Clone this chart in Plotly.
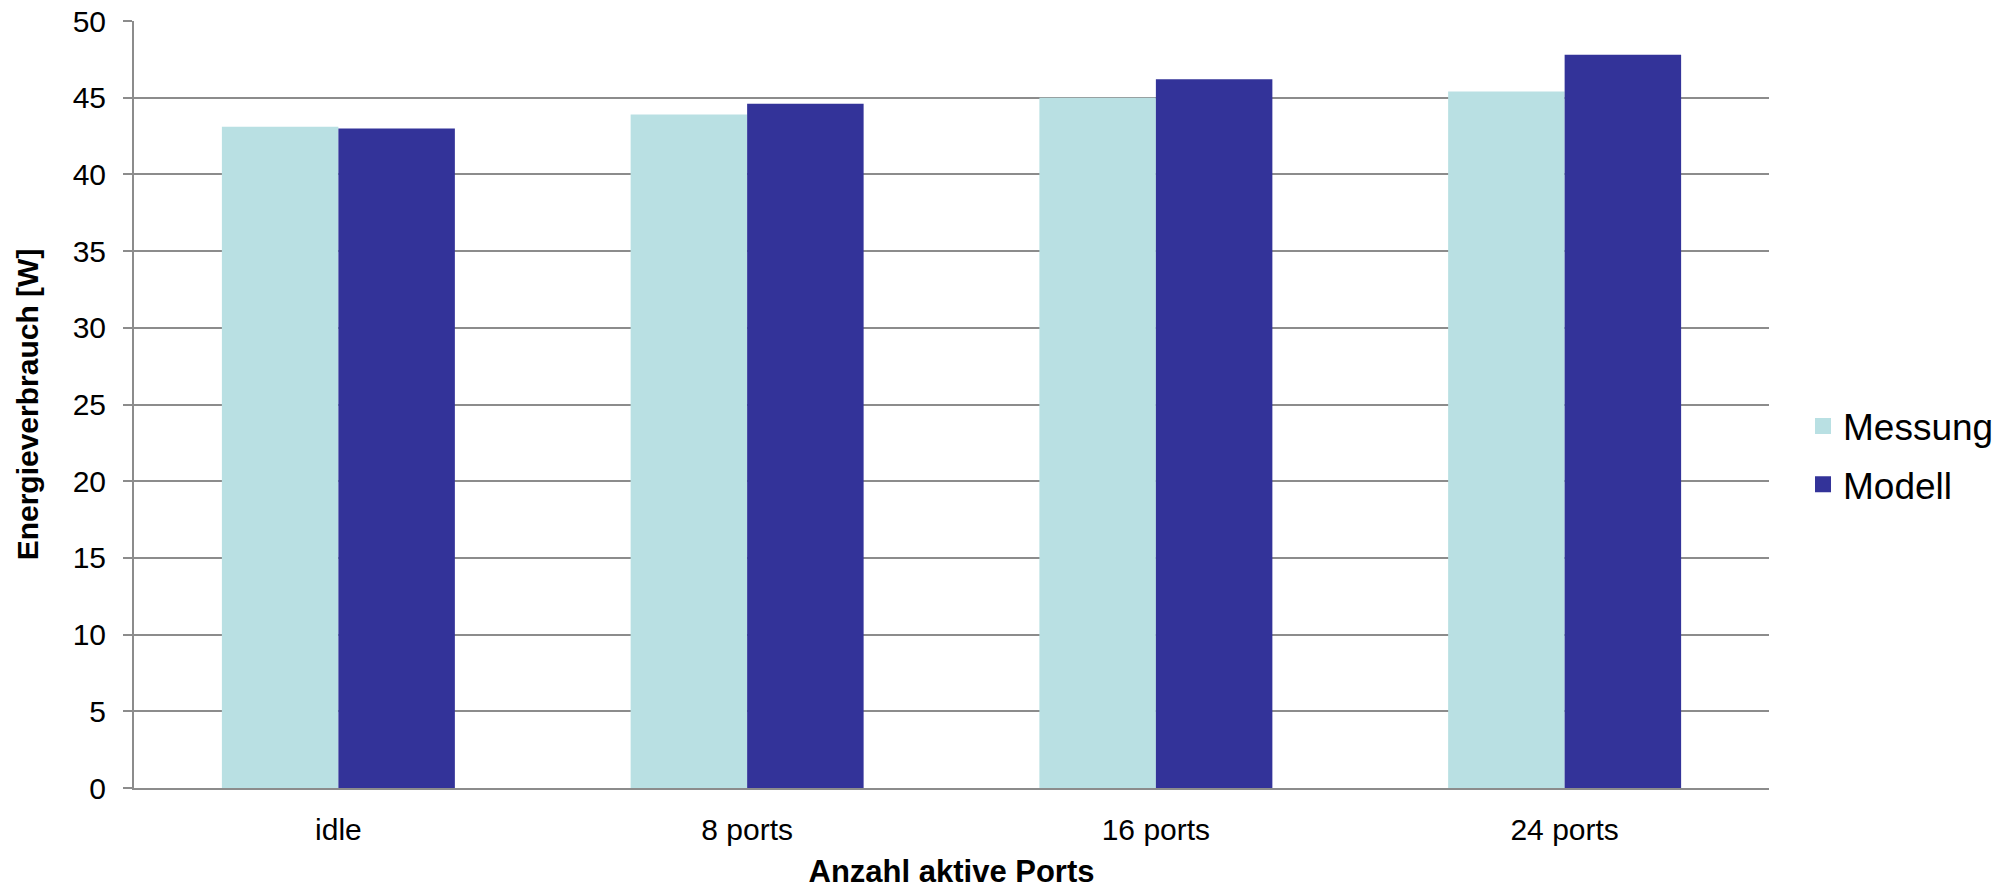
import plotly.graph_objects as go

# Energy consumption per number of active ports
categories = ["idle", "8 ports", "16 ports", "24 ports"]
messung = [43.1, 43.9, 45.0, 45.4]
modell = [43.0, 44.6, 46.2, 47.8]
y_ticks = [0, 5, 10, 15, 20, 25, 30, 35, 40, 45, 50]

series_names = ["Messung", "Modell"]
series_colors = ["#B9E0E3", "#333399"]

FONT = "Liberation Sans, Arial, sans-serif"
GRID = "#8C8C8C"

fig = go.Figure()
for name, vals, color in zip(series_names, [messung, modell], series_colors):
    fig.add_trace(go.Bar(
        x=categories, y=vals, name=name,
        marker=dict(color=color, line=dict(width=0)),
        showlegend=False,
    ))
    # square legend entries
    fig.add_trace(go.Scatter(
        x=[None], y=[None], mode="markers", name=name,
        legendgroup=name,
        marker=dict(symbol="square", size=20, color=color),
        showlegend=True,
    ))

fig.update_layout(
    width=2016, height=889,
    margin=dict(l=134, r=247, t=21, b=101, autoexpand=False),
    paper_bgcolor="white", plot_bgcolor="white",
    barmode="group", bargap=0.43, bargroupgap=0,
    font=dict(family=FONT, color="black"),
    legend=dict(
        x=1.0208, y=0.4335, xanchor="left", yanchor="middle",
        font=dict(size=37, family=FONT, color="black"),
        bgcolor="rgba(0,0,0,0)", tracegroupgap=7,
        traceorder="grouped",
    ),
)

fig.update_xaxes(
    showline=True, linecolor=GRID, linewidth=2,
    ticks="", showgrid=False,
    tickfont=dict(size=30, family=FONT, color="black"),
    ticklabelstandoff=14,
    title=dict(text="<b>Anzahl aktive Ports</b>",
               font=dict(size=31, family=FONT, color="black"), standoff=18),
    automargin=False,
)
fig.update_yaxes(
    range=[0, 50], tickvals=y_ticks,
    showline=True, linecolor=GRID, linewidth=2,
    ticks="outside", ticklen=9, tickcolor=GRID, tickwidth=2,
    ticklabelstandoff=11,
    showgrid=True, gridcolor=GRID, gridwidth=2,
    zeroline=False,
    tickfont=dict(size=30, family=FONT, color="black"),
    title=dict(text="<b>Energieverbrauch [W]</b>",
               font=dict(size=30, family=FONT, color="black"), standoff=25),
    automargin=False,
)

fig.write_html("out.html")
